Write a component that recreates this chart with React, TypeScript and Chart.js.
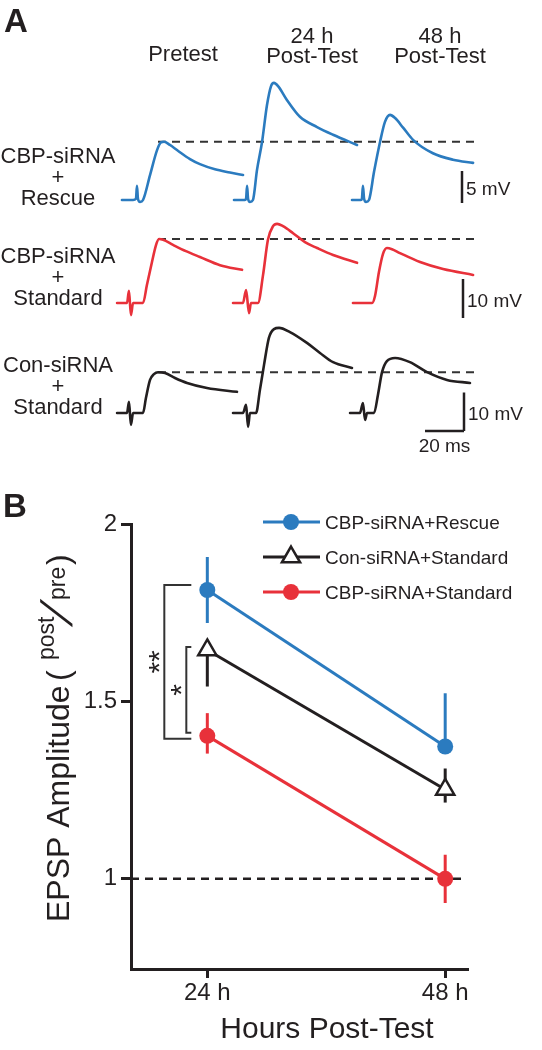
import React, { useEffect, useRef } from 'react';
import { Chart, registerables } from 'chart.js';

Chart.register(...registerables);

// ================= Panel A data: EPSP sweeps, [ms from sweep start, mV above baseline] =================
const COLUMN_TITLES = [['Pretest'], ['24 h', 'Post-Test'], ['48 h', 'Post-Test']];
const ROW_TITLES = [
  ['CBP-siRNA', '+', 'Rescue'],
  ['CBP-siRNA', '+', 'Standard'],
  ['Con-siRNA', '+', 'Standard'],
];
const ROW_BAR_MV = [5, 10, 10];
const TIME_BAR_MS = 20;

const RESCUE_PRE = [[1.0, 0], [6.7, 0], [8.2, 0.2], [8.7, 2.2], [9.2, 0.2], [10.3, -0.3], [11.8, 0], [15.4, 3.9], [19.0, 7.8], [21.0, 9.0], [22.6, 9.1], [25.6, 8.6], [29.7, 7.7], [35.9, 6.4], [41.0, 5.6], [48.7, 4.8], [56.4, 4.3], [63.1, 3.9]];
const RESCUE_24H = [[0, 0], [5.6, 0], [6.2, 0.2], [6.7, 2.2], [7.2, 0.2], [8.2, -0.3], [9.7, 0], [11.8, 4.7], [14.4, 9.1], [16.9, 14.8], [19.0, 17.8], [20.5, 18.3], [22.6, 17.8], [27.2, 15.6], [33.8, 13.0], [42.6, 11.4], [50.8, 10.2], [63.1, 8.6]];
const RESCUE_48H = [[0, 0], [4.6, 0], [5.1, 0.2], [5.6, 2.2], [6.2, 0.2], [7.2, -0.3], [8.7, 0], [11.3, 4.4], [14.4, 9.1], [16.9, 12.2], [19.5, 13.3], [22.1, 12.8], [26.2, 11.3], [31.3, 9.4], [41.5, 7.3], [51.8, 6.3], [62.1, 5.8]];

const STANDARD_PRE = [[-1.5, 0], [3.6, 0], [4.6, 3.1], [5.6, -3.1], [6.7, 0], [11.8, 0], [13.8, 4.6], [16.4, 10.5], [18.5, 14.9], [20.0, 16.4], [22.1, 16.2], [27.2, 14.9], [33.8, 13.3], [41.0, 11.8], [51.3, 9.7], [62.6, 8.5]];
const STANDARD_24H = [[-0.5, 0], [4.6, 0], [6.2, 3.3], [7.7, -2.6], [8.7, 0], [12.3, 0], [14.9, 7.2], [17.4, 16.2], [20.0, 19.7], [22.1, 20.3], [25.1, 19.7], [30.3, 17.9], [36.4, 15.6], [42.6, 14.1], [50.8, 12.3], [63.1, 10.3]];
const STANDARD_48H = [[0.5, 0], [10.3, 0], [11.8, 1.8], [13.8, 7.9], [15.9, 12.6], [17.9, 14.1], [20.5, 13.8], [24.6, 12.8], [34.9, 10.5], [46.7, 8.7], [62.1, 7.2]];

const CON_PRE = [[-1.5, 0], [3.6, 0], [4.6, 2.9], [5.6, -3.1], [6.7, 0], [11.8, 0], [13.3, 3.9], [15.4, 8.6], [17.4, 10.1], [19.5, 10.6], [23.1, 10.4], [28.2, 9.1], [34.4, 7.8], [44.6, 6.5], [60.0, 5.5]];
const CON_24H = [[-0.5, 0], [4.6, 0], [6.2, 2.1], [7.2, -3.6], [8.2, 0], [11.3, 0], [13.3, 6.0], [15.4, 12.5], [17.9, 19.5], [20.5, 21.8], [23.1, 22.1], [28.7, 21.0], [37.4, 18.2], [44.1, 15.6], [50.8, 13.2], [60.5, 11.7]];
const CON_48H = [[-1.0, 0], [4.1, 0], [5.6, 2.6], [6.7, -1.8], [7.7, 0], [11.3, 0], [13.3, 4.7], [15.4, 10.6], [17.9, 13.5], [22.1, 14.3], [29.7, 13.2], [38.5, 10.6], [48.7, 8.6], [60.5, 7.8]];

// ================= Panel B data =================
const HOURS = [24, 48];
const HOUR_LABELS = ['24 h', '48 h'];
const Y_TICKS = [1, 1.5, 2];
const SERIES_NAMES = ['CBP-siRNA+Rescue', 'Con-siRNA+Standard', 'CBP-siRNA+Standard'];
const RESCUE_MEAN = [1.814, 1.373];
const RESCUE_ERR_UP = [0.093, 0.15];
const RESCUE_ERR_DOWN = [0.093, 0];
const CON_MEAN = [1.645, 1.252];
const CON_ERR_UP = [0, 0.059];
const CON_ERR_DOWN = [0.103, 0.037];
const STD_MEAN = [1.403, 1.0];
const STD_ERR_UP = [0.064, 0.068];
const STD_ERR_DOWN = [0.05, 0.068];
const BASELINE_RATIO = 1;
const SIG_LABELS = ['**', '*'];
const SIG_PAIRS = [[0, 2], [1, 2]];

// ================= Styling / layout =================
const FONT = "'Liberation Sans', Arial, Helvetica, sans-serif";
const INK = '#231f20';
const BLUE = '#2b7bbf';
const RED = '#e8313a';
const W = 542;
const A_H = 470;
const B_H = 580;

const PX_PER_MS = 1.95;
const COL_START_PX = [120, 234, 352];
const ROW_BASE_PX = [200, 303, 413];
const ROW_PX_PER_MV = [6.4, 3.9, 3.85];
const REF_LINE_PX = [158, 474];
const BAR_X_PX = [462, 463, 464];
const BAR_BOTTOM_PX = [203, 318, 431];
const COL_TITLE_X = [183, 312, 440];
const ROW_TITLE_BASE = [163, 263, 372];
const ROW_COLORS = [BLUE, RED, INK];
const TRACES = [
  [RESCUE_PRE, RESCUE_24H, RESCUE_48H],
  [STANDARD_PRE, STANDARD_24H, STANDARD_48H],
  [CON_PRE, CON_24H, CON_48H],
];

const pxToMs = (px: number) => px / PX_PER_MS;
const pxToMv = (r: number, px: number) => (ROW_BASE_PX[r] - px) / ROW_PX_PER_MV[r];

function buildPanelA() {
  const datasets: any[] = [];
  const scales: any = {
    x: { type: 'linear', display: false, min: 0, max: W / PX_PER_MS },
  };
  for (let r = 0; r < 3; r++) {
    const b = ROW_BASE_PX[r];
    const s = ROW_PX_PER_MV[r];
    scales['y' + r] = { type: 'linear', display: false, min: -(A_H - b) / s, max: b / s };
    const level = Math.max(...TRACES[r][0].map((p) => p[1]));
    datasets.push({
      data: [{ x: pxToMs(REF_LINE_PX[0]), y: level }, { x: pxToMs(REF_LINE_PX[1]), y: level }],
      yAxisID: 'y' + r, borderColor: '#333', borderWidth: 2, borderDash: [8, 6], pointRadius: 0, order: 5,
    });
    for (let c = 0; c < 3; c++) {
      datasets.push({
        data: TRACES[r][c].map(([t, v]) => ({ x: pxToMs(COL_START_PX[c]) + t, y: v })),
        yAxisID: 'y' + r,
        borderColor: ROW_COLORS[r],
        borderWidth: 2.6,
        pointRadius: 0,
        cubicInterpolationMode: 'monotone',
        borderJoinStyle: 'round',
        borderCapStyle: 'round',
        order: 1,
      });
    }
    const bx = pxToMs(BAR_X_PX[r]);
    const bottom = pxToMv(r, BAR_BOTTOM_PX[r]);
    datasets.push({
      data: [{ x: bx, y: bottom }, { x: bx, y: bottom + ROW_BAR_MV[r] }],
      yAxisID: 'y' + r, borderColor: INK, borderWidth: 2.5, pointRadius: 0, order: 1,
    });
    if (r === 2) {
      datasets.push({
        data: [{ x: bx - TIME_BAR_MS, y: bottom }, { x: bx, y: bottom }],
        yAxisID: 'y' + r, borderColor: INK, borderWidth: 2.5, pointRadius: 0, order: 1,
      });
    }
  }
  return { datasets, scales };
}

const panelAText = {
  id: 'panelAText',
  afterDraw(chart: any) {
    const ctx = chart.ctx;
    ctx.save();
    ctx.fillStyle = INK;
    ctx.textBaseline = 'alphabetic';
    ctx.textAlign = 'left';
    ctx.font = `bold 33px ${FONT}`;
    ctx.fillText('A', 4, 32);
    ctx.font = `22px ${FONT}`;
    ctx.textAlign = 'center';
    COLUMN_TITLES.forEach((lines, c) => {
      const base = lines.length === 1 ? 61 : 43;
      lines.forEach((t, i) => ctx.fillText(t, COL_TITLE_X[c], base + i * 20));
    });
    ROW_TITLES.forEach((lines, r) => {
      lines.forEach((t, i) => ctx.fillText(t, 58, ROW_TITLE_BASE[r] + i * 20.8));
    });
    ctx.font = `19px ${FONT}`;
    ctx.textAlign = 'left';
    const xs = chart.scales.x;
    for (let r = 0; r < 3; r++) {
      const ys = chart.scales['y' + r];
      const bx = pxToMs(BAR_X_PX[r]);
      const bottom = pxToMv(r, BAR_BOTTOM_PX[r]);
      const px = xs.getPixelForValue(bx);
      const yMid = (ys.getPixelForValue(bottom) + ys.getPixelForValue(bottom + ROW_BAR_MV[r])) / 2;
      ctx.fillText(`${ROW_BAR_MV[r]} mV`, px + 4, yMid + 8);
      if (r === 2) {
        ctx.textAlign = 'center';
        const cx = (xs.getPixelForValue(bx - TIME_BAR_MS) + px) / 2;
        ctx.fillText(`${TIME_BAR_MS} ms`, cx, ys.getPixelForValue(bottom) + 21);
        ctx.textAlign = 'left';
      }
    }
    ctx.restore();
  },
};

const SERIES = [
  { mean: RESCUE_MEAN, up: RESCUE_ERR_UP, down: RESCUE_ERR_DOWN, color: BLUE, style: 'circle' },
  { mean: CON_MEAN, up: CON_ERR_UP, down: CON_ERR_DOWN, color: INK, style: 'triangle' },
  { mean: STD_MEAN, up: STD_ERR_UP, down: STD_ERR_DOWN, color: RED, style: 'circle' },
];
const CIRCLE_R = 8;
const TRI_R = 10.5;
const LEGEND_Y = [52, 87, 122];
const BRACKET_X = [-43, -21];
const BRACKET_END = -16;
const BRACKET_PAD = [[-5, 3], [-3, -3]];

function drawMarker(ctx: any, style: string, color: string, x: number, y: number) {
  ctx.beginPath();
  if (style === 'circle') {
    ctx.arc(x, y, CIRCLE_R, 0, Math.PI * 2);
    ctx.fillStyle = color;
    ctx.fill();
  } else {
    const r = TRI_R;
    ctx.moveTo(x, y - r);
    ctx.lineTo(x + Math.sin(Math.PI / 3) * r, y + r / 2);
    ctx.lineTo(x - Math.sin(Math.PI / 3) * r, y + r / 2);
    ctx.closePath();
    ctx.fillStyle = '#fff';
    ctx.fill();
    ctx.lineWidth = 2.5;
    ctx.strokeStyle = color;
    ctx.stroke();
  }
}

const panelBDecor = {
  id: 'panelBDecor',
  beforeDatasetsDraw(chart: any) {
    const { ctx } = chart;
    const xs = chart.scales.x;
    const ys = chart.scales.y;
    ctx.save();
    ctx.lineWidth = 3;
    SERIES.forEach((s) => {
      ctx.strokeStyle = s.color;
      HOURS.forEach((h, j) => {
        if (s.up[j] === 0 && s.down[j] === 0) return;
        const px = xs.getPixelForValue(h);
        ctx.beginPath();
        ctx.moveTo(px, ys.getPixelForValue(s.mean[j] + s.up[j]));
        ctx.lineTo(px, ys.getPixelForValue(s.mean[j] - s.down[j]));
        ctx.stroke();
      });
    });
    ctx.restore();
  },
  afterDraw(chart: any) {
    const { ctx } = chart;
    const xs = chart.scales.x;
    const ys = chart.scales.y;
    ctx.save();
    ctx.fillStyle = INK;
    ctx.textBaseline = 'alphabetic';
    ctx.textAlign = 'left';
    ctx.font = `bold 33px ${FONT}`;
    ctx.fillText('B', 3, 47);

    // x title
    ctx.font = `30px ${FONT}`;
    ctx.textAlign = 'center';
    ctx.fillText('Hours Post-Test', 327, 568);

    // y title
    ctx.save();
    ctx.translate(69, 452);
    ctx.rotate(-Math.PI / 2);
    ctx.textAlign = 'left';
    ctx.font = `32px ${FONT}`;
    ctx.fillText('EPSP Amplitude', 0, 0);
    ctx.fillText('(', 241, 0);
    ctx.font = `23px ${FONT}`;
    ctx.fillText('post', 262, -15);
    ctx.save();
    ctx.translate(295, 3);
    ctx.transform(1, 0, -0.5, 1, 0, 0);
    ctx.font = `44px ${FONT}`;
    ctx.fillText('/', 0, 0);
    ctx.restore();
    ctx.font = `23px ${FONT}`;
    ctx.fillText('pre', 322, -4);
    ctx.font = `32px ${FONT}`;
    ctx.fillText(')', 357, 0);
    ctx.restore();

    // legend
    SERIES.forEach((s, i) => {
      const y = LEGEND_Y[i];
      ctx.beginPath();
      ctx.strokeStyle = s.color;
      ctx.lineWidth = 3;
      ctx.moveTo(263, y);
      ctx.lineTo(320, y);
      ctx.stroke();
      drawMarker(ctx, s.style, s.color, 291, y);
      ctx.fillStyle = INK;
      ctx.font = `19px ${FONT}`;
      ctx.textAlign = 'left';
      ctx.fillText(SERIES_NAMES[i], 325, y + 7);
    });

    // significance brackets
    const x24 = xs.getPixelForValue(HOURS[0]);
    ctx.strokeStyle = '#333';
    ctx.lineWidth = 2;
    SIG_PAIRS.forEach(([a, b], k) => {
      const yTop = ys.getPixelForValue(SERIES[a].mean[0]) + BRACKET_PAD[k][0];
      const yBot = ys.getPixelForValue(SERIES[b].mean[0]) + BRACKET_PAD[k][1];
      const xv = x24 + BRACKET_X[k];
      const xe = x24 + BRACKET_END;
      ctx.beginPath();
      ctx.moveTo(xe, yTop);
      ctx.lineTo(xv, yTop);
      ctx.lineTo(xv, yBot);
      ctx.lineTo(xe, yBot);
      ctx.stroke();
      const cy = (yTop + yBot) / 2;
      ctx.fillStyle = INK;
      ctx.font = `30px ${FONT}`;
      ctx.textAlign = 'center';
      ctx.save();
      ctx.translate(xv - 12, cy);
      ctx.rotate(-Math.PI / 2);
      ctx.fillText(SIG_LABELS[k], 0, 17);
      ctx.restore();
    });
    ctx.restore();
  },
};

function buildPanelB() {
  const datasets: any[] = [
    {
      data: [{ x: 16.3, y: BASELINE_RATIO }, { x: 50.2, y: BASELINE_RATIO }],
      borderColor: INK, borderWidth: 2.5, borderDash: [8, 6], pointRadius: 0, order: 10,
    },
  ];
  SERIES.forEach((s) => {
    datasets.push({
      data: HOURS.map((h, j) => ({ x: h, y: s.mean[j] })),
      borderColor: s.color,
      borderWidth: 3,
      pointStyle: s.style,
      pointRadius: s.style === 'circle' ? CIRCLE_R : TRI_R,
      pointBackgroundColor: s.style === 'circle' ? s.color : '#fff',
      pointBorderColor: s.color,
      pointBorderWidth: s.style === 'circle' ? 0 : 2.5,
      order: 1,
    });
  });
  return datasets;
}

export default function App() {
  const refA = useRef<HTMLCanvasElement>(null);
  const refB = useRef<HTMLCanvasElement>(null);

  useEffect(() => {
    const a = buildPanelA();
    const chartA = new Chart(refA.current as HTMLCanvasElement, {
      type: 'line',
      data: { datasets: a.datasets },
      options: {
        animation: false,
        responsive: false,
        devicePixelRatio: 1,
        events: [],
        layout: { padding: 0, autoPadding: false },
        scales: a.scales,
        plugins: { legend: { display: false }, tooltip: { enabled: false } },
      } as any,
      plugins: [panelAText],
    });

    const tickFont = { family: FONT, size: 24 };
    const chartB = new Chart(refB.current as HTMLCanvasElement, {
      type: 'line',
      data: { datasets: buildPanelB() },
      options: {
        animation: false,
        responsive: false,
        devicePixelRatio: 1,
        events: [],
        layout: { padding: { top: 54, right: 75, left: 0, bottom: 0 }, autoPadding: false },
        scales: {
          x: {
            type: 'linear',
            min: 16.3,
            max: 50.2,
            afterFit: (s: any) => { s.height = 81; },
            afterBuildTicks: (s: any) => { s.ticks = HOURS.map((v) => ({ value: v })); },
            ticks: {
              font: tickFont, color: INK, padding: 1, autoSkip: false, maxRotation: 0,
              callback: (v: any) => HOUR_LABELS[HOURS.indexOf(Number(v))],
            },
            grid: { drawOnChartArea: false, drawTicks: true, tickLength: 9, lineWidth: 3, color: INK },
            border: { display: true, width: 3, color: INK },
          },
          y: {
            type: 'linear',
            min: 0.746,
            max: 2,
            afterFit: (s: any) => { s.width = 131; },
            afterBuildTicks: (s: any) => { s.ticks = Y_TICKS.map((v) => ({ value: v })); },
            ticks: { font: tickFont, color: INK, padding: 4, callback: (v: any) => String(v) },
            grid: { drawOnChartArea: false, drawTicks: true, tickLength: 10, lineWidth: 3, color: INK },
            border: { display: true, width: 3, color: INK },
          },
        },
        plugins: { legend: { display: false }, tooltip: { enabled: false } },
      } as any,
      plugins: [panelBDecor],
    });

    return () => {
      chartA.destroy();
      chartB.destroy();
    };
  }, []);

  return (
    <div style={{ position: 'absolute', left: 0, top: 0, width: W, height: A_H + B_H, background: '#fff' }}>
      <canvas ref={refA} width={W} height={A_H} style={{ position: 'absolute', left: 0, top: 0, width: W, height: A_H }} />
      <canvas ref={refB} width={W} height={B_H} style={{ position: 'absolute', left: 0, top: A_H, width: W, height: B_H }} />
    </div>
  );
}
